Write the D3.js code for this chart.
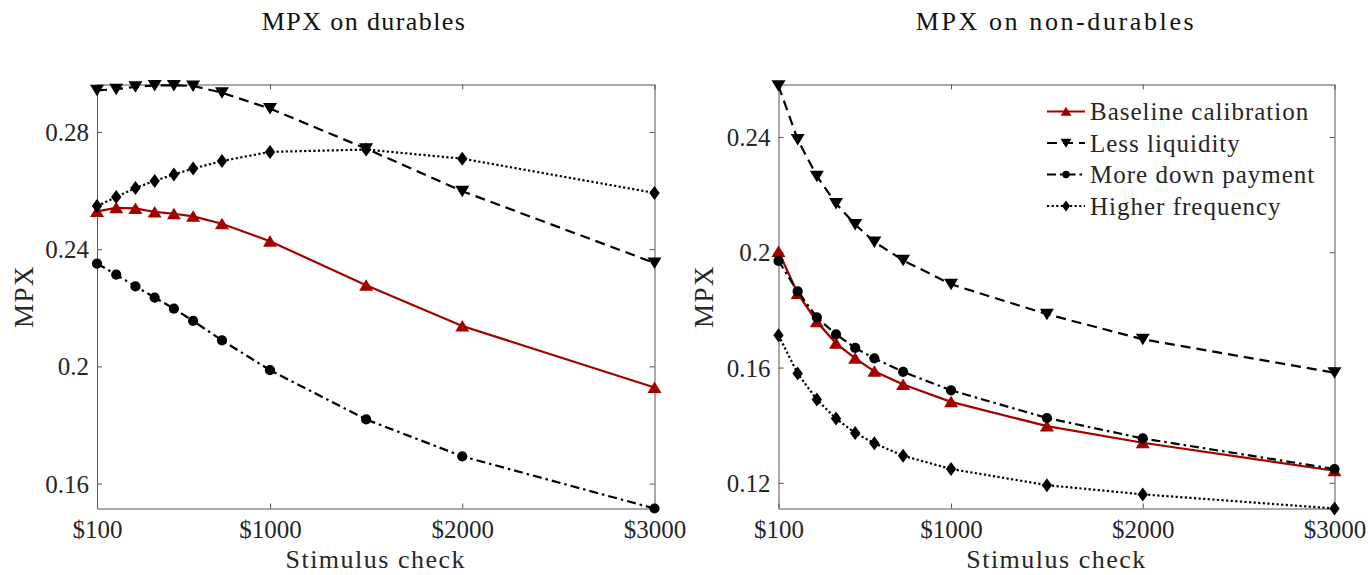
<!DOCTYPE html>
<html>
<head>
<meta charset="utf-8">
<script src="https://cdn.jsdelivr.net/npm/d3@7"></script>
<style>
  html, body { margin: 0; padding: 0; background: #fff; }
  svg { display: block; }
</style>
</head>
<body>
<svg id="chart" width="1368" height="575"></svg>
<script>
// ---------------- DATA ----------------
const checks = [100, 200, 300, 400, 500, 600, 750, 1000, 1500, 2000, 3000];
const xTickValues = [100, 1000, 2000, 3000];
const xTickLabels = ["$100", "$1000", "$2000", "$3000"];

const seriesNames = ["Baseline calibration", "Less liquidity", "More down payment", "Higher frequency"];

// MPX on durables
const baselineDur   = [0.2529, 0.2541, 0.2539, 0.2527, 0.2521, 0.2512, 0.2487, 0.2427, 0.2277, 0.2138, 0.1928];
const lessLiqDur    = [0.2942, 0.2946, 0.2954, 0.2959, 0.2959, 0.2957, 0.2934, 0.2880, 0.2743, 0.2598, 0.2353];
const moreDownDur   = [0.2351, 0.2313, 0.2273, 0.2235, 0.2197, 0.2155, 0.2089, 0.1987, 0.1819, 0.1693, 0.1515];
const higherFreqDur = [0.2547, 0.2578, 0.2609, 0.2633, 0.2655, 0.2675, 0.2701, 0.2732, 0.2740, 0.2709, 0.2592];
const yDomainDur = [0.1515, 0.2962];
const yTicksDur = [0.16, 0.2, 0.24, 0.28];
const yTickLabelsDur = ["0.16", "0.2", "0.24", "0.28"];

// MPX on non-durables
const baselineNon   = [0.2003, 0.1857, 0.1759, 0.1684, 0.1632, 0.1587, 0.1541, 0.1481, 0.1397, 0.1339, 0.1242];
const lessLiqNon    = [0.2578, 0.2391, 0.2264, 0.2169, 0.2096, 0.2036, 0.1972, 0.1889, 0.1785, 0.1698, 0.1582];
const moreDownNon   = [0.1970, 0.1864, 0.1774, 0.1715, 0.1668, 0.1632, 0.1585, 0.1521, 0.1425, 0.1354, 0.1248];
const higherFreqNon = [0.1712, 0.1579, 0.1489, 0.1423, 0.1373, 0.1337, 0.1294, 0.1248, 0.1192, 0.1160, 0.1111];
const yDomainNon = [0.1111, 0.2582];
const yTicksNon = [0.12, 0.16, 0.2, 0.24];
const yTickLabelsNon = ["0.12", "0.16", "0.2", "0.24"];

// ---------------- STYLE ----------------
const RED = "#a30000";
const INK = "#262626";
const styles = [
  { color: RED,    dash: null,        marker: "up" },
  { color: "#000", dash: "10,6",      marker: "down" },
  { color: "#000", dash: "9,4,2.5,4", marker: "circle" },
  { color: "#000", dash: "2.2,2.4",   marker: "diamond" }
];

function markerPath(type) {
  if (type === "up")    return "M0,-6L7,5.5L-7,5.5Z";
  if (type === "down")  return "M0,6L7,-5.5L-7,-5.5Z";
  if (type === "diamond") return "M0,-7L5.2,0L0,7L-5.2,0Z";
  return d3.symbol().type(d3.symbolCircle).size(Math.PI * 5.1 * 5.1)();
}

const svg = d3.select("#chart");
svg.append("rect").attr("width", 1368).attr("height", 575).attr("fill", "#fff");

const plotTop = 84.5, plotBottom = 508.5;

const panels = [
  { title: "MPX on durables", titleX: 364, titleSpacing: 1.4, x0: 97, x1: 654.5, yDomain: yDomainDur,
    yTicks: yTicksDur, yTickLabels: yTickLabelsDur, ylabX: 33,
    series: [baselineDur, lessLiqDur, moreDownDur, higherFreqDur], legend: false },
  { title: "MPX on non-durables", titleX: 1056, titleSpacing: 2.6, x0: 778.5, x1: 1334.5, yDomain: yDomainNon,
    yTicks: yTicksNon, yTickLabels: yTickLabelsNon, ylabX: 713,
    series: [baselineNon, lessLiqNon, moreDownNon, higherFreqNon], legend: true }
];

panels.forEach(p => {
  const x = d3.scaleLinear().domain([checks[0], checks[checks.length - 1]]).range([p.x0, p.x1]);
  const y = d3.scaleLinear().domain(p.yDomain).range([plotBottom, plotTop]);
  const g = svg.append("g");

  const tickLen = 5;
  const fmtX = d => xTickLabels[xTickValues.indexOf(d)];
  const fmtY = d => p.yTickLabels[p.yTicks.indexOf(d)];

  const axB = g.append("g").attr("transform", `translate(0,${plotBottom})`)
    .call(d3.axisBottom(x).tickValues(xTickValues).tickFormat(fmtX).tickSizeInner(-tickLen).tickSizeOuter(0).tickPadding(14));
  const axT = g.append("g").attr("transform", `translate(0,${plotTop})`)
    .call(d3.axisTop(x).tickValues(xTickValues).tickFormat("").tickSizeInner(-tickLen).tickSizeOuter(0));
  const axL = g.append("g").attr("transform", `translate(${p.x0},0)`)
    .call(d3.axisLeft(y).tickValues(p.yTicks).tickFormat(fmtY).tickSizeInner(-tickLen).tickSizeOuter(0).tickPadding(8));
  const axR = g.append("g").attr("transform", `translate(${p.x1},0)`)
    .call(d3.axisRight(y).tickValues(p.yTicks).tickFormat("").tickSizeInner(-tickLen).tickSizeOuter(0));

  [axB, axT, axL, axR].forEach(a => {
    a.select(".domain").attr("stroke", "#555").attr("stroke-width", 1);
    a.selectAll(".tick line").attr("stroke", "#555").attr("stroke-width", 1);
    a.selectAll(".tick text").attr("fill", INK)
      .style("font-family", "'Liberation Serif', 'Times New Roman', serif")
      .style("font-size", "25px");
  });
  axB.selectAll(".tick text").attr("dy", "0.62em");
  axL.selectAll(".tick text").attr("dy", "0.34em");

  svg.append("text").attr("x", p.titleX).attr("y", 30).attr("text-anchor", "middle")
    .style("font-family", "'Liberation Serif', serif").style("font-size", "26px")
    .style("letter-spacing", p.titleSpacing + "px").attr("fill", "#111").text(p.title);

  svg.append("text").attr("x", (p.x0 + p.x1) / 2).attr("y", 568).attr("text-anchor", "middle")
    .style("font-family", "'Liberation Serif', serif").style("font-size", "26px")
    .style("letter-spacing", "1.5px").attr("fill", INK).text("Stimulus check");

  svg.append("text").attr("transform", `translate(${p.ylabX},${(plotTop + plotBottom) / 2}) rotate(-90)`)
    .attr("text-anchor", "middle")
    .style("font-family", "'Liberation Serif', serif").style("font-size", "27px")
    .style("letter-spacing", "1.5px").attr("fill", INK).text("MPX");

  const line = d3.line().x((d, i) => x(checks[i])).y(d => y(d));
  p.series.forEach((vals, si) => {
    const st = styles[si];
    const sg = g.append("g");
    sg.append("path").datum(vals).attr("d", line)
      .attr("fill", "none").attr("stroke", st.color).attr("stroke-width", 2.2)
      .attr("stroke-dasharray", st.dash);
    sg.selectAll("path.mk").data(vals).enter().append("path").attr("class", "mk")
      .attr("d", markerPath(st.marker))
      .attr("transform", (d, i) => `translate(${x(checks[i])},${y(d)})`)
      .attr("fill", st.color).attr("stroke", "none");
  });

  if (p.legend) {
    const lg = svg.append("g");
    const rowY = [111.5, 143, 174.5, 206];
    seriesNames.forEach((name, si) => {
      const st = styles[si];
      const ry = rowY[si];
      lg.append("line").attr("x1", 1047).attr("x2", 1085).attr("y1", ry).attr("y2", ry)
        .attr("stroke", st.color).attr("stroke-width", 2.2).attr("stroke-dasharray", st.dash);
      const scale = st.marker === "circle" ? 0.72 : 0.78;
      lg.append("path").attr("d", markerPath(st.marker))
        .attr("transform", `translate(1066,${ry}) scale(${scale})`).attr("fill", st.color);
      lg.append("text").attr("x", 1090).attr("y", ry + 8.5)
        .style("font-family", "'Liberation Serif', serif").style("font-size", "25px")
        .style("letter-spacing", "1px").attr("fill", INK).text(name);
    });
  }
});
</script>
</body>
</html>
